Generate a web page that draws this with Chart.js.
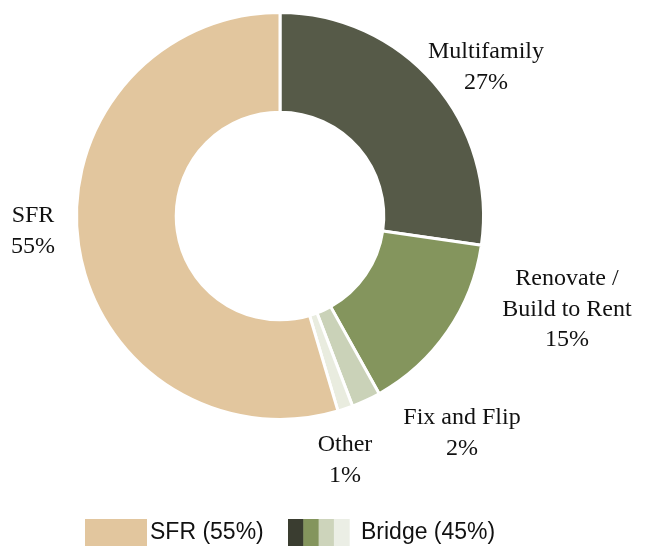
<!DOCTYPE html>
<html>
<head>
<meta charset="utf-8">
<script src="https://cdn.jsdelivr.net/npm/chart.js@4/dist/chart.umd.min.js"></script>
<style>
  html, body { margin: 0; padding: 0; background: #fff; }
  #wrap { position: relative; width: 648px; height: 546px; }
</style>
</head>
<body>
<div id="wrap"><canvas id="grafico"></canvas></div>
<script>
// dados do gráfico
const categorias = ['Multifamily', 'Renovate / Build to Rent', 'Fix and Flip', 'Other', 'SFR'];
const rotulos = [['Multifamily'], ['Renovate /', 'Build to Rent'], ['Fix and Flip'], ['Other'], ['SFR']];
const valores = [27.3, 14.6, 2.3, 1.2, 54.6];
const cores = ['#565a48', '#84955d', '#cad2b8', '#e9ecdf', '#e2c69e'];
const legendaItens = ['SFR (55%)', 'Bridge (45%)'];
const coresBridge = ['#3a3d30', '#84955d', '#cdd4bb', '#ebeee5'];

// posição dos rótulos em relação ao centro (x, y do centro da primeira linha)
const posRotulos = [[206, -164], [287, 63], [182, 202], [65, 229], [-247, 0]];

const rotulosPlugin = {
    id: 'rotulos',
    afterDraw(chart) {
        const ctx = chart.ctx;
        const arc = chart.getDatasetMeta(0).data[0];
        const cx = arc.x, cy = arc.y;
        ctx.save();
        ctx.fillStyle = '#111111';
        ctx.textAlign = 'center';
        ctx.textBaseline = 'middle';
        ctx.font = '24px "Liberation Serif", "Times New Roman", serif';
        const total = valores.reduce((a, b) => a + b, 0);
        rotulos.forEach((linhas, i) => {
            const [dx, dy] = posRotulos[i];
            const todas = linhas.concat([Math.round(valores[i] / total * 100) + '%']);
            todas.forEach((t, j) => {
                ctx.fillText(t, cx + dx, cy + dy + j * 30.5);
            });
        });

        // legenda
        ctx.font = '23px "Liberation Sans", Arial, sans-serif';
        ctx.textAlign = 'left';
        ctx.fillStyle = cores[4];
        ctx.fillRect(85, 519, 62, 27);
        ctx.fillStyle = '#111111';
        ctx.fillText(legendaItens[0], 150, 533);
        coresBridge.forEach((c, k) => {
            ctx.fillStyle = c;
            ctx.fillRect(288 + k * 15.3, 519, 15.8, 27);
        });
        ctx.fillStyle = '#111111';
        ctx.fillText(legendaItens[1], 361, 533);
        ctx.restore();
    }
};

document.addEventListener('DOMContentLoaded', function () {
    const ctx = document.getElementById('grafico').getContext('2d');
    new Chart(ctx, {
        type: 'doughnut',
        data: {
            labels: categorias,
            datasets: [{
                data: valores,
                backgroundColor: cores,
                borderColor: '#ffffff',
                borderWidth: 3
            }]
        },
        options: {
            responsive: true,
            maintainAspectRatio: false,
            animation: false,
            cutout: '51%',
            layout: { padding: { top: 11, bottom: 125, left: 75, right: 163 } },
            plugins: {
                legend: { display: false },
                tooltip: { enabled: false }
            }
        },
        plugins: [rotulosPlugin]
    });
});
</script>
</body>
</html>
